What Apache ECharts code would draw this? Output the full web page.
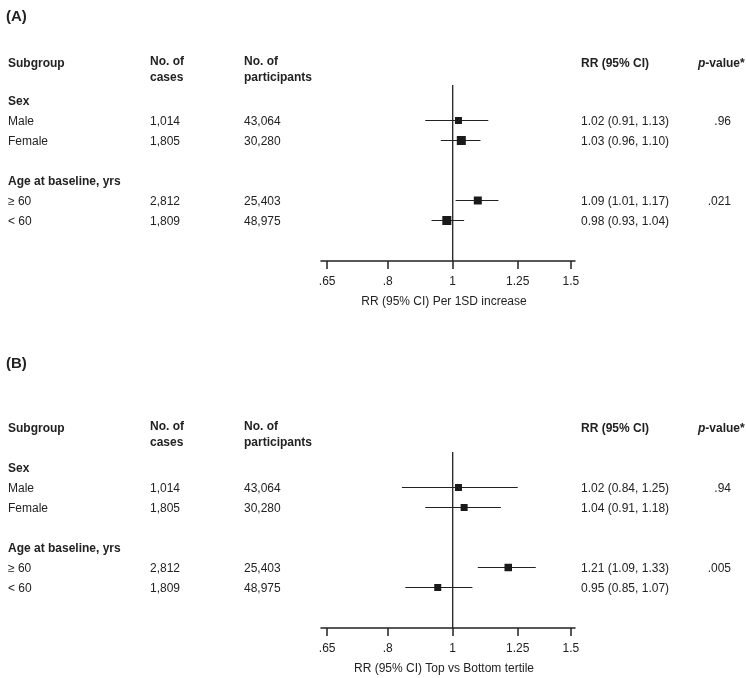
<!DOCTYPE html>
<html>
<head>
<meta charset="utf-8">
<script src="https://cdn.jsdelivr.net/npm/echarts@6/dist/echarts.min.js"></script>
<style>
html,body{margin:0;padding:0;background:#fff;}
#chart{width:746px;height:678px;}
</style>
</head>
<body>
<div id="chart"></div>
<script>
// ---------- data ----------
const subgroups = ['Male', 'Female', '\u2265 60', '< 60'];
const groupHeaders = ['Sex', 'Age at baseline, yrs'];
const rowSlot = [1, 2, 5, 6];
const groupSlot = [0, 4];
const cases = ['1,014', '1,805', '2,812', '1,809'];
const participants = ['43,064', '30,280', '25,403', '48,975'];

const rrA = [1.02, 1.03, 1.09, 0.98];
const loA = [0.91, 0.96, 1.01, 0.93];
const hiA = [1.13, 1.10, 1.17, 1.04];
const pA = ['.96', '', '.021', ''];
const weightA = [7, 9, 8, 9];

const rrB = [1.02, 1.04, 1.21, 0.95];
const loB = [0.84, 0.91, 1.09, 0.85];
const hiB = [1.25, 1.18, 1.33, 1.07];
const pB = ['.94', '', '.005', ''];
const weightB = [7, 7, 7.5, 7];

const tickValues = [0.65, 0.8, 1, 1.25, 1.5];
const tickLabels = ['.65', '.8', '1', '1.25', '1.5'];
const axisTitles = ['RR (95% CI) Per 1SD increase', 'RR (95% CI) Top vs Bottom tertile'];
const panelTitles = ['(A)', '(B)'];

// ---------- styling ----------
const FONT = '"Liberation Sans", Arial, Helvetica, sans-serif';
const INK = '#222';
const xMin = 0.6363, xMax = 1.5217;
const yMin = -0.775, yMax = 8.025;
const panelTop = [85, 452];
const headerY = [63.5, 428.5];
const titleYs = [17, 364];
const gridH = 176;
const colX = {sub: 8, cases: 150, part: 244, ci: 581, p: 731};

function fmt(v) { return v.toFixed(2); }

function rowSeries(g, rr, lo, hi, pv, sizes) {
  return {
    type: 'custom', xAxisIndex: g, yAxisIndex: g, clip: false, z: 5,
    data: rr.map((v, i) => [v, rowSlot[i], lo[i], hi[i], i]),
    encode: {x: [0, 2, 3], y: 1},
    renderItem: function (params, api) {
      const i = api.value(4);
      const c = api.coord([api.value(0), api.value(1)]);
      const l = api.coord([api.value(2), api.value(1)]);
      const h = api.coord([api.value(3), api.value(1)]);
      const s = sizes[i];
      const ty = c[1] + 1.5;
      const txt = (t, x, align) => ({
        type: 'text',
        style: {text: t, x: x, y: ty, fill: INK, font: '12px ' + FONT, align: align || 'left', verticalAlign: 'middle'}
      });
      return {
        type: 'group',
        children: [
          {type: 'line', shape: {x1: l[0], y1: c[1], x2: h[0], y2: c[1]}, style: {stroke: INK, lineWidth: 1}},
          {type: 'rect', shape: {x: c[0] - s / 2, y: c[1] - s / 2, width: s, height: s}, style: {fill: '#1a1a1a'}},
          txt(subgroups[i], colX.sub),
          txt(cases[i], colX.cases),
          txt(participants[i], colX.part),
          txt(fmt(rr[i]) + ' (' + fmt(lo[i]) + ', ' + fmt(hi[i]) + ')', colX.ci),
          txt(pv[i], colX.p, 'right')
        ]
      };
    }
  };
}

function groupSeries(g) {
  return {
    type: 'custom', xAxisIndex: g, yAxisIndex: g, clip: false,
    data: groupSlot.map((s, i) => [1, s, i]),
    renderItem: function (params, api) {
      const c = api.coord([api.value(0), api.value(1)]);
      return {
        type: 'text',
        style: {text: groupHeaders[api.value(2)], x: colX.sub, y: c[1] + 1.5, fill: INK,
          font: 'bold 12px ' + FONT, align: 'left', verticalAlign: 'middle'}
      };
    }
  };
}

function refLine(g) {
  return {
    type: 'line', xAxisIndex: g, yAxisIndex: g, symbol: 'none', silent: true, z: 3,
    data: [[1, yMin], [1, yMax]],
    lineStyle: {color: INK, width: 1.3}
  };
}

function xAxisCfg(g) {
  return {
    type: 'log', gridIndex: g, position: 'bottom', min: xMin, max: xMax,
    name: axisTitles[g], nameLocation: 'middle', nameGap: 35,
    nameTextStyle: {color: INK, fontSize: 12, fontFamily: FONT, padding: [0, 8, 0, 0]},
    axisLine: {show: true, onZero: false, lineStyle: {color: INK, width: 1.5}},
    axisTick: {show: true, customValues: tickValues, length: 8, lineStyle: {color: INK, width: 1.5}},
    axisLabel: {
      show: true, customValues: tickValues, margin: 15, color: INK, fontSize: 12, fontFamily: FONT,
      formatter: function (v) {
        const k = tickValues.findIndex(t => Math.abs(t - v) < 1e-3);
        return k >= 0 ? tickLabels[k] : '';
      }
    },
    splitLine: {show: false}, minorTick: {show: false}, minorSplitLine: {show: false}
  };
}

function yAxisCfg(g) {
  return {type: 'value', gridIndex: g, inverse: true, min: yMin, max: yMax, show: false};
}

function headerGraphics(hY) {
  const base = {fill: INK, font: 'bold 12px ' + FONT, verticalAlign: 'middle'};
  return [
    {type: 'text', x: colX.sub, y: hY, style: Object.assign({text: 'Subgroup'}, base)},
    {type: 'text', x: colX.cases, y: hY - 1.5, style: Object.assign({text: 'No. of'}, base)},
    {type: 'text', x: colX.cases, y: hY + 14.5, style: Object.assign({text: 'cases'}, base)},
    {type: 'text', x: colX.part, y: hY - 1.5, style: Object.assign({text: 'No. of'}, base)},
    {type: 'text', x: colX.part, y: hY + 14.5, style: Object.assign({text: 'participants'}, base)},
    {type: 'text', x: colX.ci, y: hY, style: Object.assign({text: 'RR (95% CI)'}, base)},
    {type: 'text', x: 698, y: hY, style: Object.assign({
      text: '{i|p}-value*', rich: {i: {fontStyle: 'italic', fontWeight: 'bold', fontSize: 12, fontFamily: FONT, fill: INK}}
    }, base)}
  ];
}

const graphics = [];
for (let g = 0; g < 2; g++) {
  graphics.push({type: 'text', x: 6, y: titleYs[g], style: {text: panelTitles[g], fill: INK, font: 'bold 15px ' + FONT, verticalAlign: 'middle'}});
  headerGraphics(headerY[g]).forEach(e => graphics.push(e));
}

const chart = echarts.init(document.getElementById('chart'), null, {renderer: 'canvas'});
chart.setOption({
  backgroundColor: '#fff',
  animation: false,
  textStyle: {fontFamily: FONT},
  grid: [
    {left: 321, width: 254, top: panelTop[0], height: gridH},
    {left: 321, width: 254, top: panelTop[1], height: gridH}
  ],
  xAxis: [xAxisCfg(0), xAxisCfg(1)],
  yAxis: [yAxisCfg(0), yAxisCfg(1)],
  graphic: graphics,
  series: [
    refLine(0), refLine(1),
    rowSeries(0, rrA, loA, hiA, pA, weightA),
    rowSeries(1, rrB, loB, hiB, pB, weightB),
    groupSeries(0), groupSeries(1)
  ]
});
</script>
</body>
</html>
